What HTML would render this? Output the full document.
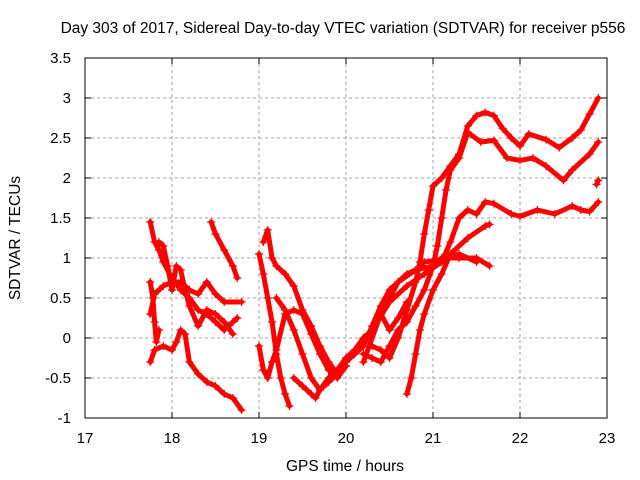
<!DOCTYPE html>
<html><head><meta charset="utf-8"><style>
body{margin:0;background:#fff}
svg{display:block;font-family:"Liberation Sans",sans-serif}
</style></head><body>
<svg id="chart" width="640" height="480" viewBox="0 0 640 480">
<text x="343" y="33" font-size="15.5" text-anchor="middle">Day 303 of 2017, Sidereal Day-to-day VTEC variation (SDTVAR) for receiver p556</text>
<g id="grid"></g>
<g id="series"></g>
<rect x="85" y="58" width="522" height="360" fill="none" stroke="#000" stroke-width="1"/>
<g id="ticks"></g>
<text x="345" y="471" font-size="15.5" text-anchor="middle">GPS time / hours</text>
<text transform="translate(20,238) rotate(-90)" font-size="15.5" text-anchor="middle">SDTVAR / TECUs</text>
</svg>
<script>
const xTicks=[17,18,19,20,21,22,23];
const yTicks=[-1,-0.5,0,0.5,1,1.5,2,2.5,3,3.5];
const sA=[[17.75,1.45],[17.8,1.2],[17.85,1.1],[17.9,0.95],[18,0.75],[18.1,0.6],[18.2,0.5],[18.3,0.35],[18.4,0.3],[18.5,0.2],[18.6,0.1],[18.7,0.2],[18.75,0.25]];
const sB=[[18.45,1.45],[18.5,1.3],[18.6,1.1],[18.7,0.9],[18.75,0.75]];
const sC=[[17.75,-0.3],[17.8,-0.15],[17.9,-0.1],[18,-0.15],[18.05,-0.05],[18.1,0.1],[18.15,0.05],[18.2,-0.3],[18.3,-0.45],[18.4,-0.55],[18.5,-0.6],[18.6,-0.7],[18.7,-0.75],[18.8,-0.9]];
const sD=[[17.75,0.3],[17.8,0.55],[17.9,0.65],[18,0.7],[18.1,0.7],[18.2,0.6],[18.3,0.55],[18.4,0.7],[18.5,0.55],[18.6,0.45],[18.8,0.45]];
const sE=[[17.85,1.2],[17.9,1.15],[17.95,0.9],[18,0.6],[18.05,0.9],[18.1,0.85],[18.15,0.6],[18.2,0.4],[18.3,0.15],[18.4,0.35],[18.5,0.3],[18.6,0.2],[18.7,0.05]];
const sF=[[17.75,0.7],[17.78,0.5],[17.8,0.2],[17.82,-0.05],[17.85,0.1]];
const sG=[[19.05,1.2],[19.1,1.35],[19.15,1.0],[19.2,0.9],[19.3,0.8],[19.4,0.65],[19.5,0.35],[19.6,0.15],[19.7,-0.1],[19.8,-0.3],[19.9,-0.45],[20,-0.35]];
const sH=[[19,1.05],[19.05,0.8],[19.1,0.5],[19.15,0.2],[19.2,-0.2],[19.25,-0.5],[19.3,-0.7],[19.35,-0.85]];
const sI=[[19,-0.1],[19.05,-0.4],[19.1,-0.5],[19.15,-0.3],[19.2,-0.15],[19.3,0.3],[19.4,0.35],[19.5,0.3],[19.6,0.05],[19.7,-0.2],[19.8,-0.4],[19.9,-0.5],[20,-0.35]];
const sJ=[[19.4,-0.5],[19.5,-0.6],[19.6,-0.7],[19.65,-0.75],[19.7,-0.65],[19.8,-0.5],[19.9,-0.4],[20,-0.25],[20.1,-0.15],[20.2,0],[20.3,0.1],[20.4,0.3],[20.5,0.5],[20.6,0.7],[20.8,0.85],[21,0.9],[21.1,1],[21.3,1],[21.5,1],[21.65,0.9]];
const sK=[[19.2,0.5],[19.3,0.35],[19.4,0.1],[19.5,-0.2],[19.6,-0.5],[19.7,-0.65],[19.8,-0.55],[19.9,-0.45]];
const sL=[[20,-0.3],[20.2,-0.1],[20.3,0.15],[20.4,0.4],[20.5,0.6],[20.6,0.7],[20.7,0.8],[20.8,0.85],[20.9,0.95],[21.1,0.98],[21.3,1.05],[21.5,0.95]];
const s1=[[20.3,-0.1],[20.4,-0.15],[20.5,-0.25],[20.6,0],[20.7,0.35],[20.8,0.7],[20.85,0.95],[20.9,1.3],[20.95,1.6],[21,1.9],[21.1,2],[21.2,2.15],[21.3,2.3],[21.4,2.65],[21.5,2.78],[21.6,2.82],[21.7,2.78],[21.8,2.62],[21.9,2.5],[22,2.4],[22.1,2.55],[22.3,2.48],[22.45,2.38],[22.6,2.5],[22.7,2.6],[22.8,2.8],[22.9,3]];
const s2=[[20.2,-0.2],[20.3,-0.25],[20.4,-0.3],[20.5,-0.1],[20.6,0.1],[20.7,0.2],[20.8,0.4],[20.9,0.6],[21,0.9],[21.05,1.15],[21.1,1.5],[21.15,1.85],[21.2,2.1],[21.3,2.25],[21.4,2.57],[21.55,2.45],[21.7,2.47],[21.85,2.25],[22,2.22],[22.15,2.25],[22.3,2.15],[22.5,1.97],[22.6,2.1],[22.8,2.3],[22.9,2.45]];
const s3=[[20.1,-0.2],[20.3,0.1],[20.5,0.45],[20.7,0.65],[20.9,0.8],[21.1,0.95],[21.2,1.2],[21.3,1.5],[21.4,1.6],[21.5,1.55],[21.6,1.7],[21.7,1.68],[21.9,1.55],[22,1.52],[22.2,1.6],[22.4,1.55],[22.6,1.65],[22.7,1.6],[22.8,1.58],[22.9,1.7]];
const s4=[[20.7,-0.7],[20.75,-0.5],[20.8,-0.2],[20.85,0.1],[20.9,0.3],[21,0.6],[21.1,0.8],[21.2,1.05],[21.4,1.25],[21.6,1.4],[21.65,1.42]];
const s5=[[20.2,-0.3],[20.4,0.3],[20.5,0.1],[20.6,0.25],[20.7,0.45]];
const s6=[[22.88,1.92],[22.9,1.97]];
const allSeries=[sA,sB,sC,sD,sE,sF,sG,sH,sI,sJ,sK,sL,s1,s2,s3,s4,s5,s6];
const X=h=>85+(h-17)*87, Y=v=>338-v*80;
const NS="http://www.w3.org/2000/svg";
const grid=document.getElementById('grid'),ticks=document.getElementById('ticks'),ser=document.getElementById('series');
function mk(t,a,p){const e=document.createElementNS(NS,t);for(const k in a)e.setAttribute(k,a[k]);p.appendChild(e);return e;}
xTicks.forEach(t=>{const x=X(t);
 if(t>17&&t<23){const g=mk('line',{x1:x,x2:x,y1:58,y2:418,stroke:'#a0a0a0','stroke-dasharray':'3,3'},grid);
 
 }
 mk('line',{x1:x,x2:x,y1:418,y2:412,stroke:'#000'},ticks);mk('line',{x1:x,x2:x,y1:58,y2:64,stroke:'#000'},ticks);
 const l=mk('text',{x:x,y:443,'font-size':15,'text-anchor':'middle'},ticks);l.textContent=t;
 
 });
yTicks.forEach(t=>{const y=Y(t);
 if(t>-1&&t<3.5){const g=mk('line',{x1:85,x2:607,y1:y,y2:y,stroke:'#a0a0a0','stroke-dasharray':'3,3'},grid);
 
 }
 mk('line',{x1:85,x2:91,y1:y,y2:y,stroke:'#000'},ticks);mk('line',{x1:607,x2:601,y1:y,y2:y,stroke:'#000'},ticks);
 const l=mk('text',{x:71,y:y+5,'font-size':15,'text-anchor':'end'},ticks);l.textContent=t;
 
 });
allSeries.forEach((s,i)=>{
 const g=mk('g',{},ser);
 
 
 mk('polyline',{points:s.map(p=>X(p[0])+','+Y(p[1])).join(' '),fill:'none',stroke:'#f00','stroke-width':5,'stroke-linejoin':'round','stroke-linecap':'round'},g);
 s.forEach(p=>{const x=X(p[0]),y=Y(p[1]);
  const m=mk('path',{d:`M${x-4},${y}H${x+4}M${x},${y-4}V${y+4}`,stroke:'#f00','stroke-width':1.2},g);
  
  });
});
</script>
</body></html>
